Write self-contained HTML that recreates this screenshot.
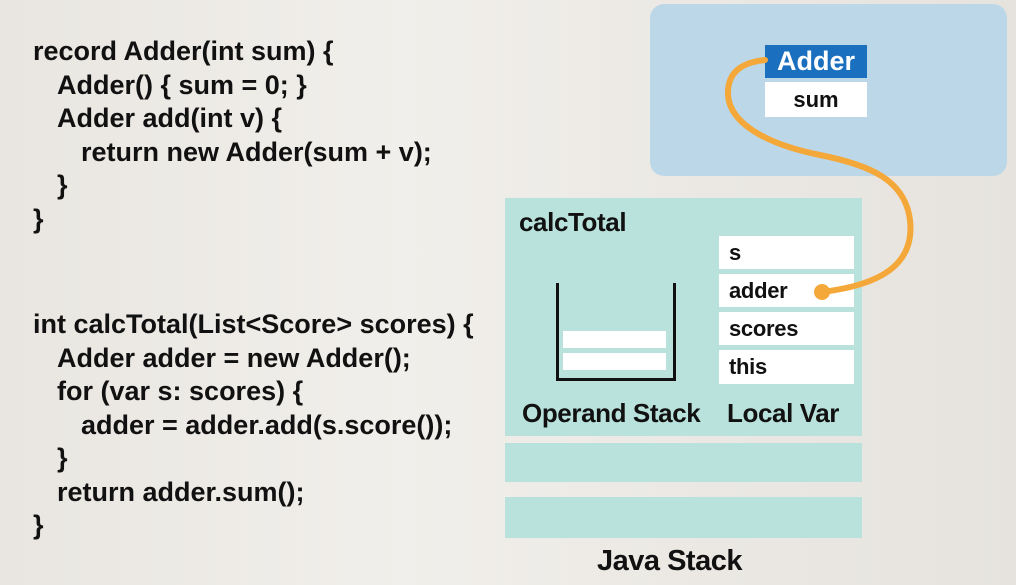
<!DOCTYPE html>
<html><head><meta charset="utf-8"><style>
html,body{margin:0;width:1016px;height:585px;overflow:hidden}
body{position:relative;background:linear-gradient(90deg,#e9e6e1 0%,#f1efeb 40%,#ebe8e3 70%,#e6e3de 100%);font-family:"Liberation Sans",sans-serif;font-weight:bold;color:#111}
.code{position:absolute;left:33px;font-size:27px;letter-spacing:0}
.code div{height:33.5px;line-height:33.5px;white-space:nowrap}
.a{position:absolute}
.box{position:absolute;background:#fff;font-size:22px;padding-left:10px;box-sizing:border-box;letter-spacing:-0.3px;display:flex;align-items:center}
.lbl{position:absolute;font-size:26px;letter-spacing:-0.4px;line-height:30px}
</style></head><body>
<div class="code" style="top:35px"><div>record Adder(int sum) {</div><div style="margin-left:24px">Adder() { sum = 0; }</div><div style="margin-left:24px">Adder add(int v) {</div><div style="margin-left:48px">return new Adder(sum + v);</div><div style="margin-left:24px">}</div><div>}</div></div>
<div class="code" style="top:308px"><div>int calcTotal(List&lt;Score&gt; scores) {</div><div style="margin-left:24px">Adder adder = new Adder();</div><div style="margin-left:24px">for (var s: scores) {</div><div style="margin-left:48px">adder = adder.add(s.score());</div><div style="margin-left:24px">}</div><div style="margin-left:24px">return adder.sum();</div><div>}</div></div>
<div class="a" style="left:650px;top:4px;width:357px;height:172px;background:#bcd7e8;border-radius:14px"></div>
<div class="a" style="left:505px;top:198px;width:357px;height:238px;background:#b9e2dc"></div>
<div class="a" style="left:505px;top:443px;width:357px;height:39px;background:#b9e2dc"></div>
<div class="a" style="left:505px;top:497px;width:357px;height:41px;background:#b9e2dc"></div>
<div class="a" style="left:765px;top:45px;width:102px;height:33px;background:#1a6fbf;color:#fff;font-size:27px;line-height:33px;text-align:center">Adder</div>
<div class="a" style="left:765px;top:82px;width:102px;height:35px;background:#fff;font-size:22px;line-height:35px;text-align:center">sum</div>
<div class="lbl" style="left:519px;top:207px">calcTotal</div>
<div class="box" style="left:719px;top:236px;width:135px;height:33px">s</div>
<div class="box" style="left:719px;top:274px;width:135px;height:33px">adder</div>
<div class="box" style="left:719px;top:312px;width:135px;height:33px">scores</div>
<div class="box" style="left:719px;top:350px;width:135px;height:34px">this</div>
<div class="a" style="left:556px;top:283px;width:114px;height:95px;border:3px solid #111;border-top:none"></div>
<div class="a" style="left:563px;top:331px;width:103px;height:17px;background:#fff"></div>
<div class="a" style="left:563px;top:353px;width:103px;height:17px;background:#fff"></div>
<div class="lbl" style="left:522px;top:398px">Operand Stack</div>
<div class="lbl" style="left:727px;top:398px">Local Var</div>
<div class="a" style="left:597px;top:545px;font-size:29px;letter-spacing:-0.5px">Java Stack</div>
<svg class="a" style="left:0;top:0" width="1016" height="585">
<path d="M822,292 C880,285 915,265 910,220 C905,180 870,165 820,155 C770,145 730,125 728,95 C727,70 745,62 765,60" fill="none" stroke="#f5a83a" stroke-width="6" stroke-linecap="round"/>
<circle cx="822" cy="292" r="8" fill="#f5a83a"/>
</svg>
</body></html>
